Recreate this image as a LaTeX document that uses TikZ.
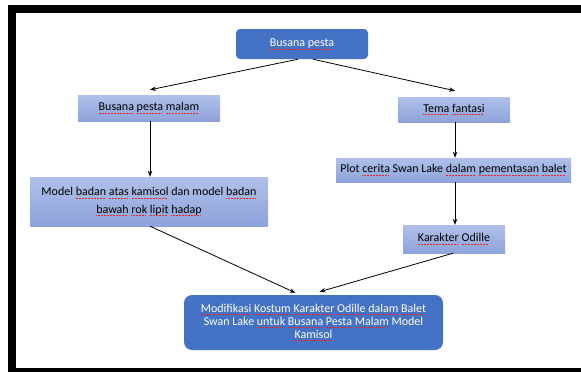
\documentclass[tikz,border=0pt]{standalone}
\usepackage{fontspec}
\setmainfont{Carlito}
\usetikzlibrary{arrows.meta}
\definecolor{darkbox}{RGB}{68,114,196}
\definecolor{lighttop}{RGB}{176,192,234}
\definecolor{lightbot}{RGB}{142,163,218}
\definecolor{squig}{RGB}{230,40,40}
\newsavebox{\sqbox}
\newcommand{\sq}[1]{\leavevmode\sbox{\sqbox}{#1}\rlap{\textcolor{squig}{\raisebox{-2.6pt}{\hbox to \wd\sqbox{\leaders\hbox{\rule{0.9pt}{0.6pt}\kern0.6pt}\hfill}}}}\usebox{\sqbox}}
\tikzset{
  darkstyle/.style={draw=none, fill=darkbox, rounded corners=4pt, text=white, align=center, inner sep=0pt},
  lightstyle/.style={draw=none, top color=lighttop, bottom color=lightbot, text=black, align=center, inner sep=0pt},
  arr/.style={-{Stealth[length=6pt,width=4.5pt]}, line width=0.8pt, black},
}
\begin{document}
\begin{tikzpicture}[x=1pt,y=-1pt, every node/.style={font=\fontsize{12}{14}\selectfont}]
\useasboundingbox (0,0) rectangle (581,372);
\fill[white] (0,0) rectangle (581,372);
% frame
\fill[black] (8,5) rectangle (581,13);
\fill[black] (8,5) rectangle (16,372);
\fill[black] (8,368) rectangle (581,372);

\node[darkstyle, minimum width=132pt, minimum height=30pt] (top) at (302,44) {\sq{Busana pesta}};
\node[lightstyle, minimum width=142pt, minimum height=26pt] (bpm) at (149,108) {\sq{Busana} \sq{pesta} \sq{malam}};
\node[lightstyle, minimum width=112pt, minimum height=25pt] (tf) at (454,109.5) {\sq{Tema} \sq{fantasi}};
\node[lightstyle, minimum width=238pt, minimum height=49pt, font=\fontsize{12}{17.5}\selectfont] (mb) at (149,201.5) {Model \sq{badan} \sq{atas} \sq{kamisol} dan model \sq{badan}\\ \sq{bawah} \sq{rok} \sq{lipit} \sq{hadap}};
\node[lightstyle, minimum width=235pt, minimum height=24pt] (pc) at (453.5,170) {Plot \sq{cerita} Swan Lake \sq{dalam} \sq{pementasan} \sq{balet}};
\node[lightstyle, minimum width=102pt, minimum height=28pt] (ko) at (454,239) {\sq{Karakter} \sq{Odille}};
\node[darkstyle, rounded corners=8pt, minimum width=259pt, minimum height=55pt, font=\fontsize{12}{13}\selectfont] (fin) at (313.5,322.5) {\sq{Modifikasi} \sq{Kostum} \sq{Karakter} \sq{Odille} \sq{dalam} \sq{Balet}\\ Swan Lake \sq{untuk} \sq{Busana} \sq{Pesta} \sq{Malam} Model\\ \sq{Kamisol}};

\draw[arr] ([xshift=-4pt]top.south) -- ([xshift=1pt,yshift=5pt]bpm.north);
\draw[arr] ([xshift=11pt]top.south) -- ([xshift=1pt,yshift=6pt]tf.north);
\draw[arr] ([xshift=1pt]bpm.south) -- ([xshift=1pt]mb.north);
\draw[arr] ([xshift=1pt]tf.south) -- ([xshift=1.5pt]pc.north);
\draw[arr] ([xshift=1.5pt]pc.south) -- ([xshift=1pt]ko.north);
\draw[arr] ([xshift=1pt]mb.south) -- ([xshift=-18pt,yshift=2pt]fin.north);
\draw[arr] ([xshift=-1pt]ko.south) -- ([xshift=6pt,yshift=3pt]fin.north);
\end{tikzpicture}
\end{document}
